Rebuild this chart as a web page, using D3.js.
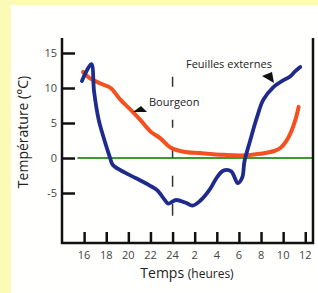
<!DOCTYPE html>
<html><head><meta charset="utf-8">
<script src="https://cdn.jsdelivr.net/npm/d3@7"></script>
<style>html,body{margin:0;padding:0;background:#fbfbb6;}svg{display:block;}</style>
</head><body><svg id="c" width="318" height="293"></svg>
<script>
const xTicks = [16,18,20,22,24,26,28,30,32,34,36];
const xTickLabels = ["16","18","20","22","24","2","4","6","8","10","12"];
const yTicks = [15,10,5,0,-5];
const bourgeonHours = [15.9,16.5,17.7,18.4,19.3,20.2,21.1,22.0,22.9,23.8,25.0,26.5,28.6,30.2,31.9,33.2,33.8,34.5,35.1,35.4];
const bourgeonTemps = [12.3,11.4,10.5,10.0,8.3,6.9,5.4,3.8,2.8,1.5,0.9,0.7,0.45,0.35,0.6,1.0,1.5,3.0,5.4,7.3];
const feuillesHours = [15.8,16.65,16.9,17.3,17.75,18.1,18.35,18.6,19.7,20.7,21.9,22.6,23.3,23.6,24.3,25.2,25.8,26.5,27.4,28.0,28.6,29.3,29.9,30.3,30.5,31.0,31.65,32.2,33.1,34.0,34.6,35.1,35.55];
const feuillesTemps = [11.0,13.4,9.5,5.6,3.0,1.2,0,-1.0,-2.1,-2.9,-3.9,-4.6,-6.0,-6.5,-6.0,-6.4,-6.8,-6.1,-4.4,-2.8,-1.8,-1.9,-3.6,-2.8,-0.5,2.4,5.9,8.3,10.1,11.1,11.6,12.4,13.0];
const seriesLabels = ["Bourgeon","Feuilles externes"];

const svg = d3.select("#c");
svg.append("rect").attr("x",11).attr("y",5).attr("width",307).attr("height",288).attr("fill","#fffffd");

const x = d3.scaleLinear().domain([14.0,36.7]).range([62,313]);
const y = d3.scaleLinear().domain([-12.14,17.14]).range([243,38]);
const font = "'Open Sans', sans-serif";

// zero line
svg.append("line").attr("x1",x(15.4)).attr("x2",x(36.7)).attr("y1",y(0)).attr("y2",y(0))
  .attr("stroke","#3c9a2e").attr("stroke-width",2);

// dashed line at 24h
svg.append("line").attr("x1",x(24)).attr("x2",x(24)).attr("y1",y(11.6)).attr("y2",y(-8.4))
  .attr("stroke","#333").attr("stroke-width",1.5).attr("stroke-dasharray","10,33,8,19,11,18,11,17,12");

const line = d3.line().x(d=>x(d[0])).y(d=>y(d[1])).curve(d3.curveCatmullRom.alpha(0.5));
svg.append("path").datum(bourgeonHours.map((h,i)=>[h,bourgeonTemps[i]])).attr("d",line)
  .attr("fill","none").attr("stroke","#f4511f").attr("stroke-width",4).attr("stroke-linejoin","round").attr("stroke-linecap","round");
svg.append("path").datum(feuillesHours.map((h,i)=>[h,feuillesTemps[i]])).attr("d",line)
  .attr("fill","none").attr("stroke","#1e2a8c").attr("stroke-width",3.8).attr("stroke-linejoin","round").attr("stroke-linecap","round");

// axes
const yAxis = d3.axisRight(y).tickValues(yTicks).tickSize(13).tickFormat("");
const gy = svg.append("g").attr("transform","translate(62,0)").call(yAxis);
gy.select(".domain").remove();
gy.selectAll(".tick line").attr("stroke","#111").attr("stroke-width",2.5);
const xAxis = d3.axisTop(x).tickValues(xTicks).tickSize(11).tickFormat("");
const gx = svg.append("g").attr("transform","translate(0,243)").call(xAxis);
gx.select(".domain").remove();
gx.selectAll(".tick line").attr("stroke","#111").attr("stroke-width",2.5);

svg.append("path").attr("d",`M${x(14)},${y(17.14)}V${y(-12.14)}H${x(36.7)}V${y(17.14)}`)
  .attr("fill","none").attr("stroke","#111").attr("stroke-width",2.5);

// tick labels
svg.selectAll(".yl").data(yTicks).join("text").attr("x",57).attr("y",d=>y(d)+4)
  .attr("text-anchor","end").attr("font-family",font).attr("font-size",11).attr("fill","#444").text(d=>d);
svg.selectAll(".xl").data(xTicks).join("text").attr("x",d=>x(d)).attr("y",259)
  .attr("text-anchor","middle").attr("font-family",font).attr("font-size",11).attr("fill","#444").text((d,i)=>xTickLabels[i]);

// titles
const tt = svg.append("text").attr("x",187).attr("y",278).attr("text-anchor","middle").attr("font-family",font).attr("fill","#222");
tt.append("tspan").attr("font-size",14).text("Temps ");
tt.append("tspan").attr("font-size",12).text("(heures)");
svg.append("text").attr("transform","translate(28,132) rotate(-90)").attr("text-anchor","middle")
  .attr("font-family",font).attr("font-size",14).attr("fill","#222").text("Température (°C)");

// annotations
svg.append("text").attr("x",149).attr("y",106).attr("font-family",font).attr("font-size",11).attr("fill","#222")
  .attr("stroke","#fff").attr("stroke-width",3).attr("paint-order","stroke").text(seriesLabels[0]);
svg.append("path").attr("d","M133,112L141,106L147,112Z").attr("fill","#111");
svg.append("text").attr("x",186).attr("y",68).attr("font-family",font).attr("font-size",11).attr("fill","#222").text(seriesLabels[1]);
svg.append("path").attr("d","M262,76L272,72L274,83Z").attr("fill","#111");
</script></body></html>
